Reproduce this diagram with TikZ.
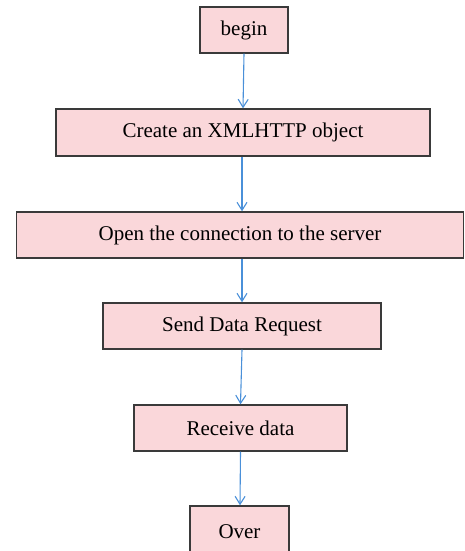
\documentclass[tikz,border=0pt]{standalone}
\usepackage{fontspec}
\setmainfont{Liberation Serif}
\usetikzlibrary{arrows.meta}
\definecolor{boxfill}{HTML}{FAD7DA}
\definecolor{boxline}{HTML}{3A3A3A}
\definecolor{arrowblue}{HTML}{4A90D9}
\begin{document}
\begin{tikzpicture}[x=1pt,y=-1pt,
  flowbox/.style={draw=boxline, line width=1.4pt, fill=boxfill, inner sep=0pt,
    font=\fontsize{21}{25}\selectfont, text=black},
  arr/.style={draw=arrowblue, line width=1.1pt, -{Straight Barb[length=8pt,width=10pt,line width=1.1pt]}}]
\useasboundingbox (0,0) rectangle (464,551);
\clip (0,0) rectangle (464,551);
\node[flowbox, minimum width=88pt, minimum height=46pt] (begin) at (244,30) {begin};
\node[flowbox, minimum width=374pt, minimum height=47pt] (create) at (243,132.5) {Create an XMLHTTP object};
\node[flowbox, minimum width=447pt, minimum height=46pt] (open) at (240,235) {Open the connection to the server};
\node[flowbox, minimum width=278pt, minimum height=46pt] (send) at (242,326) {Send Data Request};
\node[flowbox, minimum width=213pt, minimum height=46pt] (receive) at (240.5,428) {Receive data};
\node[flowbox, minimum width=99pt, minimum height=56pt] (over) at (239.5,534) {\raisebox{5pt}{Over}};
\draw[arr] (begin.south) -- (create.north);
\draw[arr] ([xshift=-1pt]create.south) -- ([xshift=-1pt]create.south |- open.north);
\draw[arr] ([xshift=2pt]open.south) -- (send.north);
\draw[arr] (send.south) -- (receive.north);
\draw[arr] (receive.south) -- ([xshift=0.5pt]over.north);
\end{tikzpicture}
\end{document}
